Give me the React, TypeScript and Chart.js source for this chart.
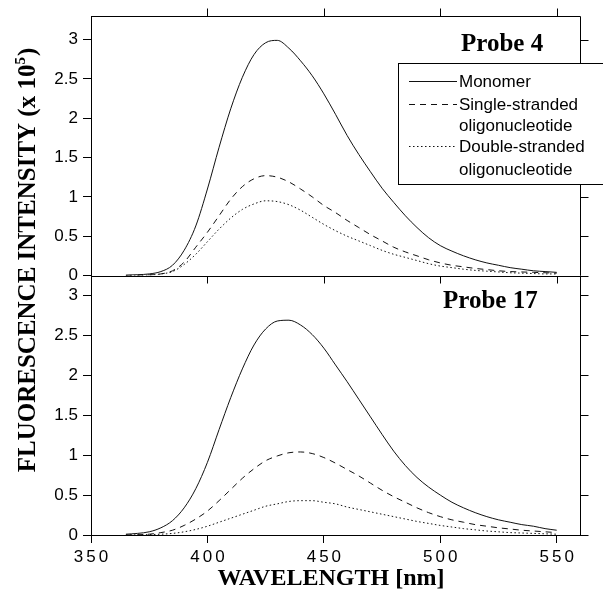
import React, { useEffect, useRef } from 'react';
import { Chart, registerables } from 'chart.js';

Chart.register(...registerables);

// ---- data (wavelength in nm, intensity in units of 10^5) ----
const WAVELENGTHS = [
  365, 370, 375, 380, 385, 390, 395, 400, 405, 410,
  415, 420, 425, 430, 435, 440, 445, 450, 455, 460,
  465, 470, 475, 480, 485, 490, 495, 500, 505, 510,
  515, 520, 525, 530, 535, 540, 545, 550,
];

const PROBE4_MONOMER = [
  0.005, 0.01, 0.02, 0.05, 0.13, 0.32, 0.63, 1.10, 1.63, 2.12,
  2.52, 2.81, 2.96, 2.99, 2.89, 2.73, 2.54, 2.31, 2.05, 1.78,
  1.54, 1.32, 1.11, 0.93, 0.76, 0.61, 0.48, 0.38, 0.31, 0.25,
  0.20, 0.16, 0.13, 0.10, 0.08, 0.06, 0.05, 0.04,
];
const PROBE4_SINGLE = [
  0, 0.003, 0.008, 0.02, 0.06, 0.17, 0.36, 0.55, 0.76, 0.97,
  1.13, 1.23, 1.27, 1.25, 1.19, 1.10, 1.00, 0.89, 0.80, 0.70,
  0.61, 0.52, 0.44, 0.36, 0.30, 0.25, 0.20, 0.16, 0.13, 0.11,
  0.09, 0.075, 0.06, 0.05, 0.045, 0.04, 0.035, 0.03,
];
const PROBE4_DOUBLE = [
  0, 0.002, 0.006, 0.02, 0.05, 0.14, 0.27, 0.43, 0.59, 0.73,
  0.84, 0.91, 0.95, 0.94, 0.90, 0.83, 0.74, 0.65, 0.57, 0.50,
  0.44, 0.38, 0.32, 0.27, 0.23, 0.19, 0.15, 0.12, 0.10, 0.08,
  0.065, 0.055, 0.045, 0.035, 0.03, 0.025, 0.02, 0.02,
];

const PROBE17_MONOMER = [
  0.01, 0.02, 0.04, 0.09, 0.18, 0.34, 0.58, 0.91, 1.32, 1.72,
  2.08, 2.38, 2.58, 2.68, 2.69, 2.63, 2.51, 2.34, 2.13, 1.92,
  1.70, 1.48, 1.26, 1.05, 0.87, 0.72, 0.60, 0.50, 0.41, 0.34,
  0.28, 0.23, 0.19, 0.16, 0.13, 0.11, 0.08, 0.06,
];
const PROBE17_SINGLE = [
  0, 0.003, 0.01, 0.03, 0.06, 0.12, 0.20, 0.30, 0.43, 0.57,
  0.71, 0.83, 0.93, 0.99, 1.03, 1.04, 1.02, 0.97, 0.90, 0.82,
  0.74, 0.65, 0.56, 0.48, 0.41, 0.34, 0.28, 0.23, 0.19, 0.16,
  0.13, 0.11, 0.09, 0.075, 0.06, 0.05, 0.04, 0.03,
];
const PROBE17_DOUBLE = [
  0, 0.002, 0.005, 0.01, 0.02, 0.04, 0.07, 0.11, 0.16, 0.21,
  0.26, 0.31, 0.36, 0.39, 0.42, 0.43, 0.43, 0.41, 0.39, 0.35,
  0.32, 0.29, 0.26, 0.23, 0.20, 0.17, 0.145, 0.12, 0.10, 0.08,
  0.065, 0.05, 0.04, 0.03, 0.025, 0.02, 0.015, 0.01,
];

const SERIES_NAMES = ['Monomer', 'Single-stranded oligonucleotide', 'Double-stranded oligonucleotide'];
const LEGEND_LINES = [['Monomer'], ['Single-stranded', 'oligonucleotide'], ['Double-stranded', 'oligonucleotide']];
const PANEL_LABELS = ['Probe 4', 'Probe 17'];
const X_TITLE = 'WAVELENGTH [nm]';
const Y_TITLE_MAIN = 'FLUORESCENCE INTENSITY (x 10';
const Y_TITLE_SUP = '5';
const Y_TITLE_END = ')';

const X_MIN = 350;
const X_MAX = 560;
const X_STEP = 50;
const Y_STEP = 0.5;
const TOP_MAX = 3.3;
const BOTTOM_MAX = 3.25;

const SANS = "'Liberation Sans', Arial, Helvetica, sans-serif";
const SERIF = "'Liberation Serif', 'Times New Roman', Times, serif";
const INK = '#111';
const DASHES = [[], [6, 5], [1.5, 2.5]];

const toPoints = (arr: number[]) => WAVELENGTHS.map((x, i) => ({ x, y: arr[i] }));

const overlayPlugin = {
  id: 'overlay',
  afterDatasetsDraw(chart: any) {
    const { ctx, chartArea: a, scales } = chart;
    const xs = scales.x;
    const yt = scales.yTop;
    const yb = scales.yBot;
    ctx.save();
    ctx.strokeStyle = '#000';
    ctx.lineWidth = 1;
    ctx.setLineDash([]);
    const r = Math.round(a.right) + 0.5;
    const t = Math.round(a.top) + 0.5;
    const mid = Math.round(yt.bottom) + 0.5;
    ctx.beginPath();
    ctx.moveTo(a.left, t);
    ctx.lineTo(r, t);
    ctx.lineTo(r, a.bottom);
    ctx.moveTo(a.left, mid);
    ctx.lineTo(r, mid);
    for (const s of [yt, yb]) {
      for (const tk of s.ticks) {
        const y = Math.round(s.getPixelForValue(tk.value)) + 0.5;
        ctx.moveTo(r, y);
        ctx.lineTo(r + 8, y);
      }
    }
    for (const tk of xs.ticks) {
      if (tk.value <= xs.min) continue;
      const px = Math.round(xs.getPixelForValue(tk.value)) + 0.5;
      ctx.moveTo(px, t);
      ctx.lineTo(px, t - 8);
      ctx.moveTo(px, mid);
      ctx.lineTo(px, mid + 7);
    }
    ctx.stroke();
    ctx.restore();
  },
  afterDraw(chart: any) {
    const { ctx, chartArea: a, scales } = chart;
    const xs = scales.x;
    const yt = scales.yTop;
    ctx.save();
    ctx.fillStyle = '#000';

    // x tick labels (spaced lettering)
    ctx.font = `17px ${SANS}`;
    (ctx as any).letterSpacing = '3px';
    ctx.textAlign = 'center';
    ctx.textBaseline = 'middle';
    for (const tk of xs.ticks) {
      const px = xs.getPixelForValue(tk.value);
      ctx.fillText(String(tk.value), px + 1.5, a.bottom + 22);
    }
    (ctx as any).letterSpacing = '0px';

    // x title
    ctx.font = `bold 24px ${SERIF}`;
    ctx.textAlign = 'center';
    ctx.textBaseline = 'alphabetic';
    ctx.fillText(X_TITLE, a.left + 240, a.bottom + 50);

    // y title (rotated)
    ctx.save();
    ctx.translate(35, a.top + 244);
    ctx.rotate(-Math.PI / 2);
    ctx.textAlign = 'left';
    ctx.textBaseline = 'alphabetic';
    const mainFont = `bold 25px ${SERIF}`;
    const supFont = `bold 15px ${SERIF}`;
    ctx.font = mainFont;
    const w1 = ctx.measureText(Y_TITLE_MAIN).width;
    const w3 = ctx.measureText(Y_TITLE_END).width;
    ctx.font = supFont;
    const w2 = ctx.measureText(Y_TITLE_SUP).width;
    let cx = -(w1 + w2 + w3 + 1) / 2;
    ctx.font = mainFont;
    ctx.fillText(Y_TITLE_MAIN, cx, 0);
    cx += w1;
    ctx.font = supFont;
    ctx.fillText(Y_TITLE_SUP, cx, -10);
    cx += w2 + 1;
    ctx.font = mainFont;
    ctx.fillText(Y_TITLE_END, cx, 0);
    ctx.restore();

    // panel labels
    ctx.font = `bold 25px ${SERIF}`;
    ctx.textAlign = 'left';
    ctx.textBaseline = 'alphabetic';
    ctx.fillText(PANEL_LABELS[0], a.right - 119, a.top + 35);
    ctx.fillText(PANEL_LABELS[1], a.right - 137, yt.bottom + 32);

    // legend
    const bx = a.right - 182;
    const by = a.top + 47;
    const bw = chart.width - bx + 4;
    const bh = 121;
    ctx.fillStyle = '#fff';
    ctx.fillRect(bx, by, bw, bh);
    ctx.strokeStyle = '#000';
    ctx.lineWidth = 1;
    ctx.strokeRect(Math.round(bx) + 0.5, Math.round(by) + 0.5, bw, bh);
    ctx.fillStyle = '#000';
    ctx.font = `17px ${SANS}`;
    const baselines = [[24], [47, 68], [89, 112]];
    ctx.strokeStyle = INK;
    for (let i = 0; i < LEGEND_LINES.length; i++) {
      const lines = LEGEND_LINES[i];
      const ly = Math.round(by + baselines[i][0] - 6) + 0.5;
      ctx.setLineDash(DASHES[i]);
      ctx.beginPath();
      ctx.moveTo(bx + 11, ly);
      ctx.lineTo(bx + 59, ly);
      ctx.stroke();
      ctx.setLineDash([]);
      for (let j = 0; j < lines.length; j++) {
        ctx.fillText(lines[j], bx + 61, by + baselines[i][j]);
      }
    }
    ctx.restore();
  },
};

function yAxis(max: number) {
  return {
    type: 'linear',
    position: 'left',
    stack: 'panels',
    stackWeight: 1,
    min: 0,
    max,
    ticks: {
      stepSize: Y_STEP,
      includeBounds: false,
      color: '#000',
      padding: 5,
      font: { family: SANS, size: 17 },
      callback: (v: number) => String(v),
    },
    grid: { display: true, drawOnChartArea: false, drawTicks: true, tickLength: 8, color: '#000' },
    border: { display: true, color: '#000', width: 1 },
    afterFit: (s: any) => {
      s.width = 91;
    },
  };
}

export default function App() {
  const ref = useRef<HTMLCanvasElement | null>(null);
  useEffect(() => {
    if (!ref.current) return;
    const top = [PROBE4_MONOMER, PROBE4_SINGLE, PROBE4_DOUBLE];
    const bottom = [PROBE17_MONOMER, PROBE17_SINGLE, PROBE17_DOUBLE];
    const datasets: any[] = [];
    [top, bottom].forEach((group, p) => {
      group.forEach((arr, i) => {
        datasets.push({
          label: `${PANEL_LABELS[p]} ${SERIES_NAMES[i]}`,
          data: toPoints(arr),
          yAxisID: p === 0 ? 'yTop' : 'yBot',
          borderColor: INK,
          borderWidth: 1,
          borderDash: DASHES[i],
          pointRadius: 0,
          fill: false,
          cubicInterpolationMode: 'monotone',
        });
      });
    });
    const chart = new Chart(ref.current, {
      type: 'line',
      data: { datasets },
      options: {
        animation: false,
        responsive: false,
        devicePixelRatio: 1,
        layout: { padding: { top: 16, right: 23, left: 0, bottom: 0 } },
        plugins: { legend: { display: false }, tooltip: { enabled: false }, title: { display: false } },
        scales: {
          // stacked axes are laid out in reverse of declaration order here
          yBot: yAxis(BOTTOM_MAX),
          yTop: yAxis(TOP_MAX),
          x: {
            type: 'linear',
            position: 'bottom',
            min: X_MIN,
            max: X_MAX,
            ticks: { stepSize: X_STEP, includeBounds: false, display: false },
            grid: { display: true, drawOnChartArea: false, drawTicks: true, tickLength: 8, color: '#000' },
            border: { display: true, color: '#000', width: 1 },
            afterFit: (s: any) => {
              s.height = 59;
            },
          },
        } as any,
      },
      plugins: [overlayPlugin],
    } as any);
    return () => chart.destroy();
  }, []);
  return (
    <div style={{ position: 'absolute', left: 0, top: 0, width: 603, height: 594, background: '#fff' }}>
      <canvas ref={ref} width={603} height={594} style={{ display: 'block' }} />
    </div>
  );
}
